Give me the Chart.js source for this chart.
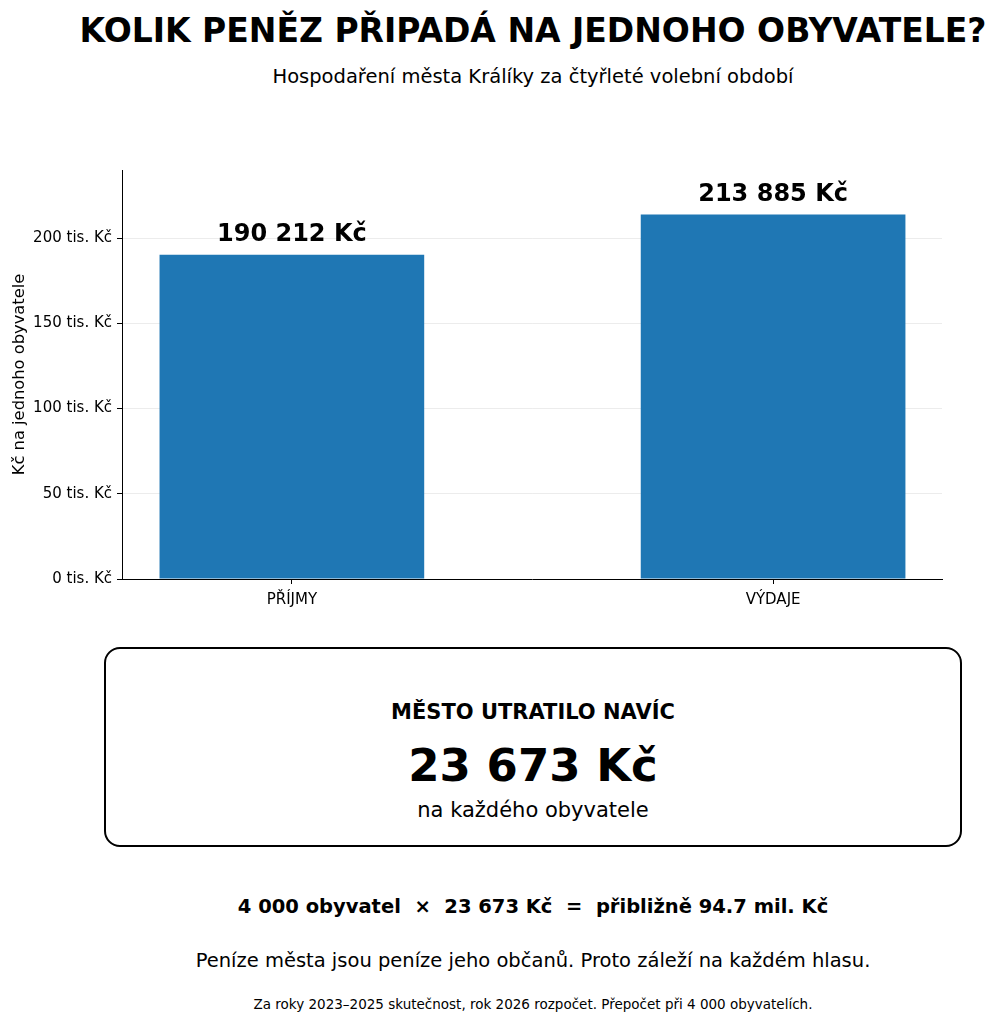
<!DOCTYPE html>
<html lang="cs">
<head>
<meta charset="utf-8">
<script src="https://cdn.jsdelivr.net/npm/chart.js@4/dist/chart.umd.min.js"></script>
<style>
  html, body { margin: 0; padding: 0; background: #fff; }
  body { width: 996px; height: 1024px; position: relative; overflow: hidden; font-family: "DejaVu Sans", sans-serif; color: #000; }
  .t { position: absolute; left: 533px; transform: translateX(-50%); white-space: nowrap; line-height: 1; }
  #wrap { position: absolute; left: 0; top: 150px; width: 996px; height: 470px; }
  #box { position: absolute; left: 104px; top: 647px; width: 854px; height: 196px; border: 2px solid #000; border-radius: 16px; }
</style>
</head>
<body>
<div class="t" style="top:14px;font-size:33px;font-weight:bold;">KOLIK PENĚZ PŘIPADÁ NA JEDNOHO OBYVATELE?</div>
<div class="t" style="top:67px;font-size:19.5px;">Hospodaření města Králíky za čtyřleté volební období</div>

<div id="wrap"><canvas id="chart"></canvas></div>

<div id="box"></div>
<div class="t" style="top:702px;font-size:21px;font-weight:bold;">MĚSTO UTRATILO NAVÍC</div>
<div class="t" style="top:743px;font-size:45px;font-weight:bold;">23 673 Kč</div>
<div class="t" style="top:800px;font-size:21px;">na každého obyvatele</div>

<div class="t" style="top:897px;font-size:19.5px;font-weight:bold;white-space:pre;">4 000 obyvatel  ×  23 673 Kč  =  přibližně 94.7 mil. Kč</div>
<div class="t" style="top:951px;font-size:19.5px;">Peníze města jsou peníze jeho občanů. Proto záleží na každém hlasu.</div>
<div class="t" style="top:998px;font-size:13.5px;">Za roky 2023–2025 skutečnost, rok 2026 rozpočet. Přepočet při 4 000 obyvatelích.</div>

<script>
const kategorie = ['PŘÍJMY', 'VÝDAJE'];
const hodnoty = [190212, 213885];
const yTicks = [0, 50000, 100000, 150000, 200000];
const yMax = 240000;

const fmt = v => v.toString().replace(/\B(?=(\d{3})+(?!\d))/g, ' ') + ' Kč';

const popisky = {
    id: 'popisky',
    afterDatasetsDraw(chart) {
        const ctx = chart.ctx;
        ctx.save();
        ctx.font = 'bold 24px "DejaVu Sans"';
        ctx.fillStyle = '#000';
        ctx.textAlign = 'center';
        ctx.textBaseline = 'bottom';
        chart.getDatasetMeta(0).data.forEach((bar, i) => {
            ctx.fillText(fmt(hodnoty[i]), bar.x, bar.y - 8);
        });
        ctx.restore();
    }
};

new Chart(document.getElementById('chart').getContext('2d'), {
    type: 'bar',
    data: {
        datasets: [{
            data: hodnoty.map((v, i) => ({ x: i, y: v })),
            backgroundColor: '#1f77b4',
            borderWidth: 0,
            categoryPercentage: 1,
            barPercentage: 0.55
        }]
    },
    options: {
        responsive: true,
        maintainAspectRatio: false,
        animation: false,
        layout: { padding: { top: 20, right: 54, left: 0, bottom: 0 } },
        plugins: { legend: { display: false }, tooltip: { enabled: false } },
        scales: {
            x: {
                type: 'linear',
                min: -0.353,
                max: 1.351,
                offset: false,
                afterBuildTicks: s => { s.ticks = kategorie.map((_, i) => ({ value: i })); },
                afterFit: s => { s.height = 41; },
                ticks: {
                    callback: v => kategorie[v],
                    color: '#000',
                    font: { family: 'DejaVu Sans', size: 15 },
                    padding: 7
                },
                grid: { offset: false, drawOnChartArea: false, drawTicks: true, tickLength: 5, tickColor: '#000' },
                border: { color: '#000', width: 1 }
            },
            y: {
                min: 0,
                max: yMax,
                z: 1,
                afterBuildTicks: s => { s.ticks = yTicks.map(v => ({ value: v })); },
                afterFit: s => { s.width = 122; },
                ticks: {
                    callback: v => (v / 1000) + ' tis. Kč',
                    color: '#000',
                    font: { family: 'DejaVu Sans', size: 15 },
                    padding: 5
                },
                title: {
                    display: true,
                    text: 'Kč na jednoho obyvatele',
                    color: '#000',
                    font: { family: 'DejaVu Sans', size: 16.3 },
                    padding: { top: 10, bottom: 4 }
                },
                grid: { color: 'rgba(200,200,200,0.35)', lineWidth: 1, drawTicks: true, tickLength: 5, tickColor: '#000' },
                border: { color: '#000', width: 1 }
            }
        }
    },
    plugins: [popisky]
});
</script>
</body>
</html>
